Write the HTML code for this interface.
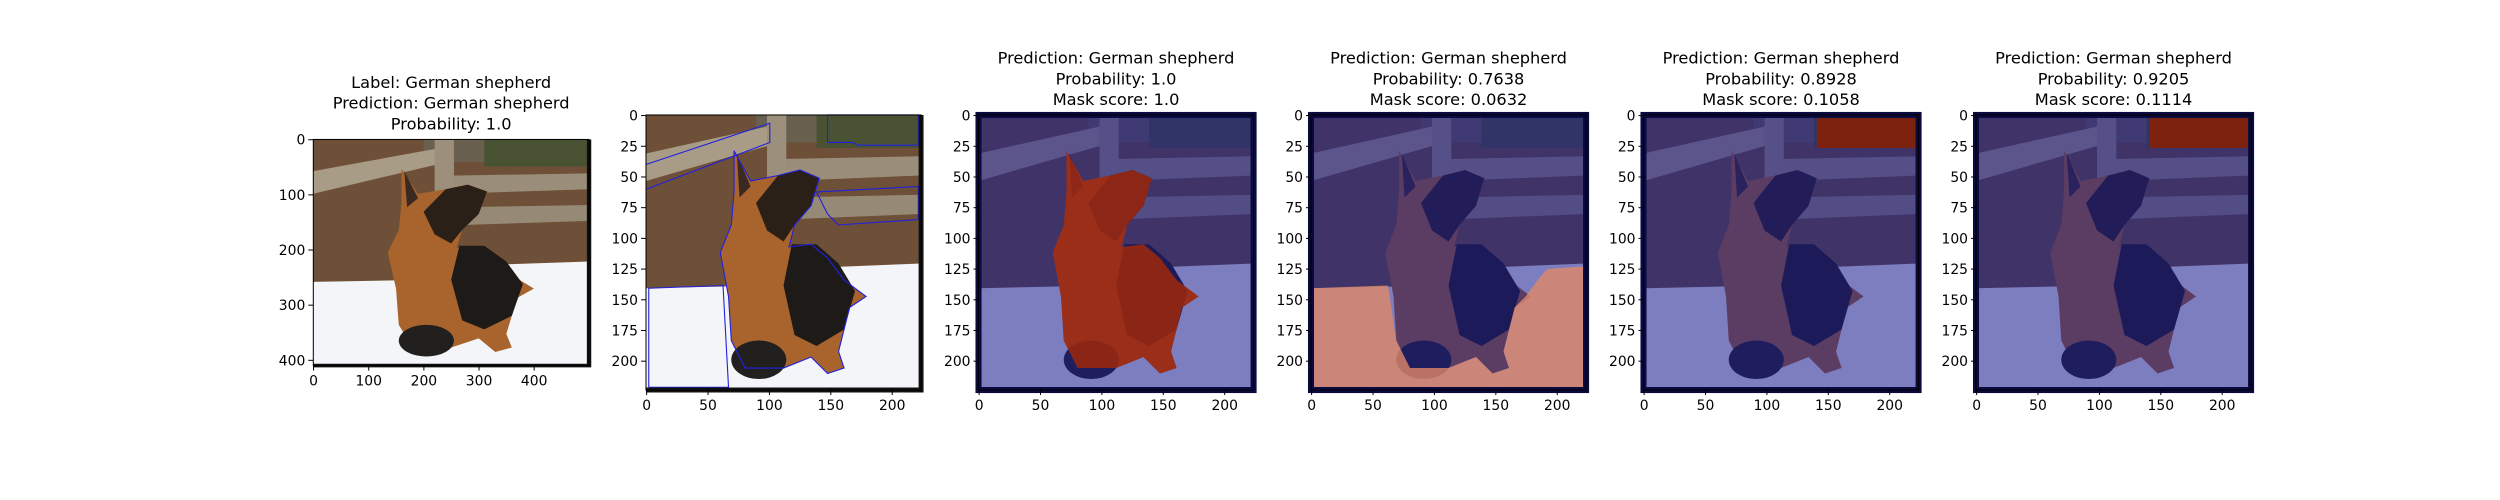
<!DOCTYPE html>
<html><head><meta charset="utf-8"><style>
html,body{margin:0;padding:0;background:#fff;width:2500px;height:500px;overflow:hidden}
svg text{font-family:"DejaVu Sans","Liberation Sans",sans-serif;fill:#000}
</style></head><body>
<svg id="fig" width="2500" height="500" viewBox="0 0 2500 500" xmlns="http://www.w3.org/2000/svg">
<defs>
  <g id="scene">
    <rect x="0" y="0" width="100" height="100" fill="#6e5038"/>
    <rect x="62" y="0" width="38" height="12" fill="#4a5234"/>
    <rect x="40" y="0" width="22" height="10" fill="#6a6050"/>
    <polygon points="0,14 45,4 45,11 0,24" fill="#a89c86"/>
    <polygon points="50,16 100,15 100,22 50,24" fill="#9a8e7a"/>
    <polygon points="50,30 100,29 100,36 50,38" fill="#968a76"/>
    <rect x="44" y="0" width="7" height="40" fill="#9c907c"/>
    <polygon points="0,63 45,62 50,56 100,54 100,100 0,100" fill="#f3f5f8"/>
    <path d="M32,13 L38,24 L48,22 L56,20 L63,23 L60,33 L54,40 L52,48 L60,47 L66,52 L72,60 L80,66 L74,70 L70,86 L72,92 L66,94 L60,88 L50,92 L36,92 L31,82 L30,66 L27,50 L31,40 L32,28 Z" fill="#a8642c"/>
    <path d="M48,22 L56,20 L63,23 L60,33 L54,40 L50,46 L44,42 L40,32 Z" fill="#2a2018"/>
    <path d="M53,47 L62,47 L70,54 L76,64 L72,78 L62,84 L54,80 L50,62 Z" fill="#1e1a18"/>
    <path d="M33,14 L38,26 L34,30 Z" fill="#3a2a22"/>
    <ellipse cx="41" cy="89" rx="10" ry="7" fill="#22201f"/>
  </g>
  <clipPath id="dogclip"><path d="M32,13 L38,24 L48,22 L56,20 L63,23 L60,33 L54,40 L52,48 L60,47 L66,52 L72,60 L80,66 L74,70 L70,86 L72,92 L66,94 L60,88 L50,92 L36,92 L31,82 L30,66 L27,50 L31,40 L32,28 Z"/></clipPath>
</defs>
<g id="panels"></g>
</svg>
<script>
// panel text / tick data
const titles = [
  ["Label: German shepherd","Prediction: German shepherd","Probability: 1.0"],
  [],
  ["Prediction: German shepherd","Probability: 1.0","Mask score: 1.0"],
  ["Prediction: German shepherd","Probability: 0.7638","Mask score: 0.0632"],
  ["Prediction: German shepherd","Probability: 0.8928","Mask score: 0.1058"],
  ["Prediction: German shepherd","Probability: 0.9205","Mask score: 0.1114"]
];
const imgW = [500,224,224,224,224,224];
const imgH = [410,224,224,224,224,224];
const xTicks0 = [0,100,200,300,400];
const yTicks0 = [0,100,200,300,400];
const xTicks = [0,50,100,150,200];
const yTicks = [0,25,50,75,100,125,150,175,200];
const overlays = ["none","contour","dog","snow","corner","corner"];

const NS="http://www.w3.org/2000/svg";
const root=document.getElementById('panels');
function el(t,a,p){const e=document.createElementNS(NS,t);for(const k in a)e.setAttribute(k,a[k]);(p||root).appendChild(e);return e;}

for(let i=0;i<6;i++){
  const scale = i===0?0.5515:1.228;
  const W=imgW[i]*scale, H=imgH[i]*scale;
  const left = i===0?313.3:646+332.5*(i-1);
  const cy = 252.5;
  const top = cy-H/2;
  const g=el('g',{});
  
  
  const xs=v=>left+(v+0.5)*scale, ys=v=>top+(v+0.5)*scale;
  const ig=el('g',{transform:`translate(${left},${top}) scale(${W/100},${H/100})`},g);
  
  
  el('use',{href:'#scene'},ig);
  const ov=overlays[i];
  if(ov==='contour'){
    el('path',{d:"M32,13 L38,24 L48,22 L56,20 L63,23 L60,33 L54,40 L52,48 L60,47 L66,52 L72,60 L80,66 L74,70 L70,86 L72,92 L66,94 L60,88 L50,92 L36,92 L31,82 L30,66 L27,50 L31,40 L32,28 Z",fill:'none',stroke:'#2020e0','stroke-width':0.4},ig);
    el('polyline',{points:"1,99 1,63 28,62 30,99 1,99",fill:'none',stroke:'#2020e0','stroke-width':0.4},ig);
    el('polyline',{points:"66,0 99,0 99,11 77,11 75,10 66,10 66,0",fill:'none',stroke:'#2020e0','stroke-width':0.4},ig);
    el('polyline',{points:"0,27 45,10 45,3 0,18",fill:'none',stroke:'#2020e0','stroke-width':0.4},ig);
    el('polyline',{points:"62,28 99,26 99,38 70,40 66,36 62,28",fill:'none',stroke:'#2020e0','stroke-width':0.4},ig);
  } else if(ov!=='none'){
    el('rect',{x:0,y:0,width:100,height:100,fill:'#1c1c90',opacity:0.55},ig);
    if(ov==='dog'){
      el('rect',{x:0,y:0,width:100,height:100,fill:'#b02a00',opacity:0.75,'clip-path':'url(#dogclip)'},ig);
    } else if(ov==='snow'){
      el('polygon',{points:"0,63 28,62 31,82 36,92 50,92 60,88 66,94 72,92 70,86 74,70 78,66 84,58 86,56 100,55 100,100 0,100",fill:'#e08868',opacity:0.8},ig);
    } else {
      el('rect',{x:63,y:0,width:37,height:12,fill:'#8a2000',opacity:0.85},ig);
    }
    el('rect',{x:0,y:0,width:100,height:100,fill:'none',stroke:'#0a0a40','stroke-width':2.2},ig);
  } else {
    el('polyline',{points:"0,100 100,100 100,0",fill:'none',stroke:'#111','stroke-width':1.6},ig);
  }
  if(i===1) el('polyline',{points:"0,100 100,100 100,0",fill:'none',stroke:'#111','stroke-width':1.8},ig);
  const sp=el('rect',{x:left,y:top,width:W,height:H,fill:'none',stroke:'#000','stroke-width':1},g);
  
  
  const xt = i===0?xTicks0:xTicks, yt=i===0?yTicks0:yTicks;
  xt.forEach(v=>{
    const x=xs(v);
    el('line',{x1:x,y1:top+H,x2:x,y2:top+H+5,stroke:'#000','stroke-width':1},g);
    const t=el('text',{x:x,y:top+H+20,'text-anchor':'middle','font-size':13.9},g);
    t.textContent=v;
    
    
  });
  yt.forEach(v=>{
    const y=ys(v);
    el('line',{x1:left-5,y1:y,x2:left,y2:y,stroke:'#000','stroke-width':1},g);
    const t=el('text',{x:left-8,y:y+5,'text-anchor':'end','font-size':13.9},g);
    t.textContent=v;
    
    
  });
  const tl=titles[i];
  const lineH = 20.7;
  tl.forEach((s,k)=>{
    const y = top - 10 - (tl.length-1-k)*lineH;
    const t=el('text',{x:left+W/2,y:y,'text-anchor':'middle','font-size':16.2},g);
    t.textContent=s;
    
    
  });
}
</script>
</body></html>
